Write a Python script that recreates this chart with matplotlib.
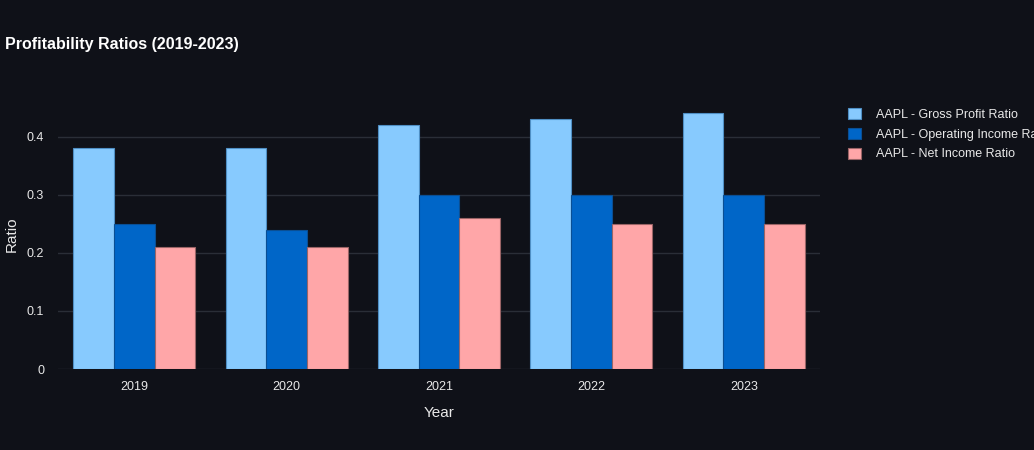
import numpy as np
import matplotlib.pyplot as plt

years = ['2019', '2020', '2021', '2022', '2023']
gross_profit = [0.38, 0.38, 0.42, 0.43, 0.44]
operating_income = [0.25, 0.24, 0.30, 0.30, 0.30]
net_income = [0.21, 0.21, 0.26, 0.25, 0.25]

series = [
    ('AAPL - Gross Profit Ratio', gross_profit, '#87cafe', '#4f8fc4'),
    ('AAPL - Operating Income Ratio', operating_income, '#0066c8', '#0a4f94'),
    ('AAPL - Net Income Ratio', net_income, '#ffa6a8', '#9a6466'),
]

bg = '#0f1118'
plt.rcParams['font.family'] = ['Liberation Sans', 'DejaVu Sans']

fig = plt.figure(figsize=(10.34, 4.5), dpi=100, facecolor=bg)
ax = fig.add_axes([58 / 1034, 81 / 450, 762 / 1034, 269 / 450], facecolor=bg)

x = np.arange(len(years))
w = 0.8 / 3
for i, (name, vals, col, edge) in enumerate(series):
    ax.bar(x + (i - 1) * w, vals, width=w, color=col, edgecolor=edge,
           linewidth=0.8, label=name, zorder=3)

ax.set_xlim(-0.5, len(years) - 0.5)
ax.set_ylim(0, 0.4632)
ax.set_yticks([0, 0.1, 0.2, 0.3, 0.4])
ax.set_yticklabels(['0', '0.1', '0.2', '0.3', '0.4'])
ax.set_xticks(x)
ax.set_xticklabels(years)
ax.grid(axis='y', color='#2a2e37', linewidth=1, zorder=0)
for s in ax.spines.values():
    s.set_visible(False)
ax.tick_params(colors='#e8e8e8', labelsize=9, length=0, pad=9)
ax.tick_params(axis='y', pad=10)

ax.set_xlabel('Year', color='#e8e8e8', fontsize=11, labelpad=9)
ax.set_ylabel('Ratio', color='#e8e8e8', fontsize=11, labelpad=6)

fig.text(5 / 1034, 1 - 45 / 450, 'Profitability Ratios (2019-2023)', color='white',
         fontsize=11.5, fontweight='bold', va='center', ha='left')

leg = ax.legend(loc='upper left', bbox_to_anchor=(843 / 1034, 1 - 103 / 450),
                bbox_transform=fig.transFigure, frameon=False, fontsize=9,
                labelcolor='#e8e8e8', handlelength=1.0, handleheight=1.0,
                handletextpad=1.2, labelspacing=0.55, borderaxespad=0)

fig.savefig('out.png', dpi=100, facecolor=bg)
